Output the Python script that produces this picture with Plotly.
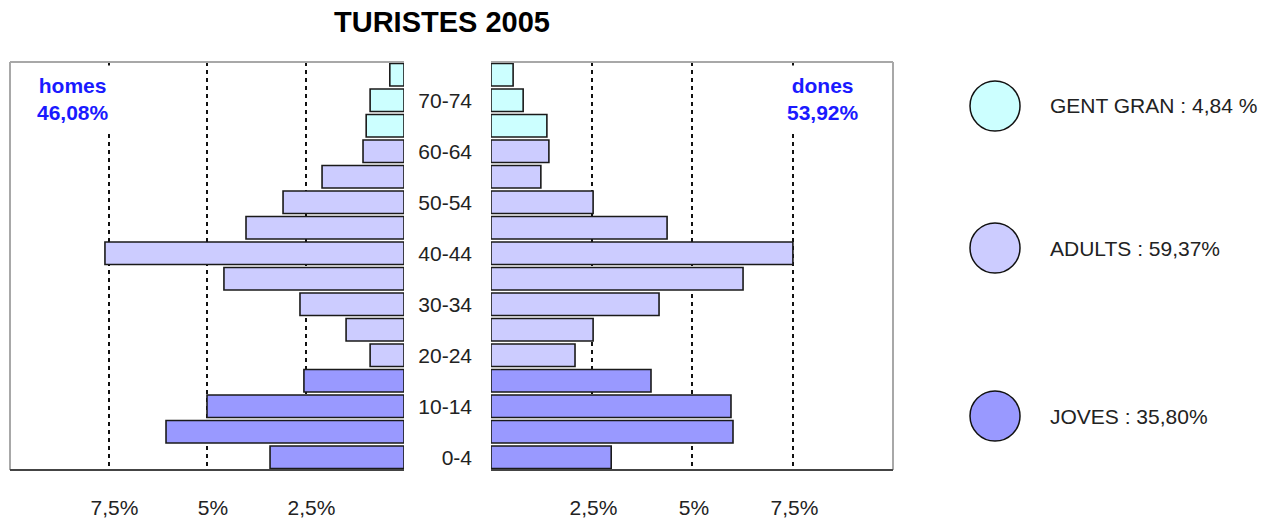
import plotly.graph_objects as go

# age pyramid, bottom to top
AGE_GROUPS = ["0-4", "5-9", "10-14", "15-19", "20-24", "25-29", "30-34", "35-39",
              "40-44", "45-49", "50-54", "55-59", "60-64", "65-69", "70-74", "75+"]
MEN = [3.40, 6.04, 5.00, 2.54, 0.86, 1.47, 2.64, 4.57,
       7.59, 4.01, 3.07, 2.08, 1.04, 0.96, 0.86, 0.36]
WOMEN = [2.99, 6.02, 5.97, 3.98, 2.09, 2.54, 4.18, 6.27,
         7.51, 4.38, 2.54, 1.24, 1.44, 1.39, 0.80, 0.55]
AGE_GROUP_CLASS = ["JOVES"] * 4 + ["ADULTS"] * 9 + ["GENT GRAN"] * 3

CLASS_NAMES = ["GENT GRAN", "ADULTS", "JOVES"]
CLASS_LABELS = ["GENT GRAN : 4,84 %", "ADULTS : 59,37%", "JOVES : 35,80%"]
CLASS_COLORS = {"GENT GRAN": "#CCFFFF", "ADULTS": "#CCCCFF", "JOVES": "#9999FF"}

TICK_VALUES = [2.5, 5, 7.5]
TICK_TEXT = ["2,5%", "5%", "7,5%"]
CENTER_LABELS = AGE_GROUPS[::2]

MEN_TOTAL = "46,08%"
WOMEN_TOTAL = "53,92%"

FONT = "Arial, Liberation Sans, sans-serif"
W, H = 1274, 518
TOP, BOTTOM = 62, 470


def px_x(v):
    return v / W


def px_y(v):
    return (BOTTOM - v) / (BOTTOM - TOP)


bar_colors = [CLASS_COLORS[c] for c in AGE_GROUP_CLASS]
bar_line = dict(color="#1a1a1a", width=1.6)

fig = go.Figure()
fig.add_trace(go.Bar(y=AGE_GROUPS, x=MEN, orientation="h", marker=dict(color=bar_colors, line=bar_line),
                     xaxis="x", yaxis="y", showlegend=False, hoverinfo="x+y"))
fig.add_trace(go.Bar(y=AGE_GROUPS, x=WOMEN, orientation="h", marker=dict(color=bar_colors, line=bar_line),
                     xaxis="x2", yaxis="y2", showlegend=False, hoverinfo="x+y"))

grid = dict(showgrid=True, gridcolor="#111111", griddash="4px,4px", gridwidth=1.5,
            tickvals=TICK_VALUES, ticktext=TICK_TEXT, ticks="", zeroline=False,
            tickfont=dict(family=FONT, size=21, color="#222222"), ticklabelstandoff=23,
            showline=False, fixedrange=True)

fig.update_layout(
    width=W, height=H,
    margin=dict(l=0, r=0, t=TOP, b=H - BOTTOM),
    paper_bgcolor="white", plot_bgcolor="white",
    bargap=0.12,
    title=dict(text="<b>TURISTES 2005</b>", x=px_x(442), xanchor="center", y=1 - 22 / H, yanchor="middle",
               font=dict(family=FONT, size=29, color="#000000")),
    # left axis is reversed, so a negative shift moves its labels to the right
    xaxis=dict(domain=[px_x(10), px_x(404)], range=[10, 0], anchor="y", ticklabelshift=-6, **grid),
    xaxis2=dict(domain=[px_x(491), px_x(893)], range=[0, 10], anchor="y2", ticklabelshift=2, **grid),
    yaxis=dict(domain=[0, 1], anchor="x", type="category", categoryorder="array", categoryarray=AGE_GROUPS,
               showticklabels=False, showgrid=False, ticks="", fixedrange=True),
    yaxis2=dict(domain=[0, 1], anchor="x2", type="category", categoryorder="array", categoryarray=AGE_GROUPS,
                side="left", tickvals=CENTER_LABELS, ticks="", showgrid=False, ticklabelstandoff=18,
                tickfont=dict(family=FONT, size=21, color="#222222"), fixedrange=True),
)

# panel frames: grey top/outer border, dark bottom line
frame = "#a8a8a8"
for xr, yr, outer in (("x domain", "y domain", 0), ("x2 domain", "y2 domain", 1)):
    fig.add_shape(type="line", xref=xr, yref=yr, x0=0, x1=1, y0=1, y1=1, line=dict(color=frame, width=2))
    fig.add_shape(type="line", xref=xr, yref=yr, x0=outer, x1=outer, y0=0, y1=1, line=dict(color=frame, width=2))
    fig.add_shape(type="line", xref=xr, yref=yr, x0=0, x1=1, y0=0, y1=0, line=dict(color="#444444", width=2))

# totals per sex
for text, cx in ((f"<b>homes</b><br><b>{MEN_TOTAL}</b>", 73), (f"<b>dones</b><br><b>{WOMEN_TOTAL}</b>", 823)):
    fig.add_annotation(text=text, xref="paper", yref="paper", x=px_x(cx), y=px_y(99),
                       xanchor="center", yanchor="middle", showarrow=False, bgcolor="white",
                       borderpad=8, font=dict(family=FONT, size=21, color="#1a1aff"))

# class legend
for name, label, cy in zip(CLASS_NAMES, CLASS_LABELS, (106, 248, 416)):
    fig.add_shape(type="circle", xref="paper", yref="paper",
                  x0=px_x(970), x1=px_x(1020), y0=px_y(cy + 25), y1=px_y(cy - 25),
                  fillcolor=CLASS_COLORS[name], line=dict(color="#111111", width=1.5))
    fig.add_annotation(text=label, xref="paper", yref="paper", x=px_x(1048), y=px_y(cy),
                       xanchor="left", yanchor="middle", showarrow=False,
                       font=dict(family=FONT, size=21, color="#222222"))

fig.write_html("out.html", config={"displayModeBar": False},
               post_script="document.body.style.margin = '0';")
